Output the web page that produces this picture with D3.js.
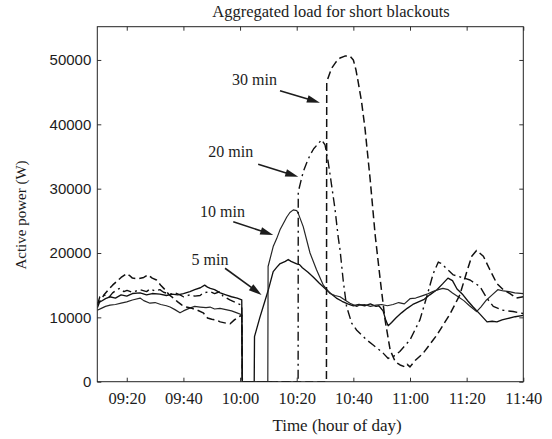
<!DOCTYPE html>
<html><head><meta charset="utf-8">
<script src="https://cdn.jsdelivr.net/npm/d3@7"></script>
<style>body{margin:0;background:#fff}</style>
</head><body><svg id="c" width="552" height="439"></svg>
<script>
// ---- data (time in minutes after 09:00, load in W) ----
const xTickMinutes = [20,40,60,80,100,120,140,160];
const xTickLabels = ["09:20","09:40","10:00","10:20","10:40","11:00","11:20","11:40"];
const yTicks = [0,10000,20000,30000,40000,50000];
const seriesNames = ["5 min","10 min","20 min","30 min"];

const time5 = [9.6,11,12.5,14,16,18,20,22,24.7,27,29,31.7,34,36,38,40,42.3,44,46,47.5,48.5,49.5,51,53,55,57,59,60.6,60.8,65,65.1,67,70,71.7,73,74,75,76,77,78,79,80,81,82,84,86,88,90,92,94,96,98,100,102,104,106,108,109,110.5,111.5,112.3,113.5,115,117,119,121,123,125,127,129.5,131.5,133.4,135,136.6,138.7,140.5,142.3,144.7,147.2,149,150.7,152.5,154.3,157.1,160];
const load5 = [12200,12500,12900,13200,13000,13500,13300,13700,13800,13500,13700,13600,13400,13600,13500,13700,14000,14300,14600,15000,14700,14500,14300,13800,13500,13200,13000,12700,0,0,7000,10000,14300,17100,17800,18300,18500,18700,19000,18700,18500,18300,18200,17700,17000,16200,15300,14500,13700,13000,12500,12100,11800,12000,11800,12100,11700,11800,11000,9500,8700,9200,9900,10700,11400,12000,12400,12800,13500,14300,15200,16100,15700,14400,13500,12500,11600,10500,9300,9400,9300,9600,9800,10100,10300];

const time10 = [9.6,11,12.5,14.1,16,18,20,22,24.7,26,28.2,30,32,34,35.3,37,38.8,40,42,44,45.9,48,49.4,51,52.9,55,57,58.9,60.6,60.8,69.8,69.9,71.7,72.9,74.1,75.9,76.5,77.6,78.8,80,80.5,82.3,84.7,87,89.4,91.8,93.5,95.3,97,98.8,101.2,102,104,106,108,110,112,114,116,118,120,122,124,126,128,130,131.6,133.5,135,137,139,141,143.5,145,147,149,151,153,155,157,160];
const load10 = [11100,11400,11700,11900,12000,12200,12400,12700,13000,12600,12200,12300,12000,11800,11600,11200,10700,11000,11400,11700,11600,11500,11600,11300,11400,11200,11000,10700,10400,0,0,17900,21000,22200,23600,25100,25600,26300,26700,26600,26200,24100,20000,17400,15000,13700,13400,13200,12700,12200,11700,11900,12000,11700,11900,12000,11800,12000,12300,12100,12900,13000,13300,13600,14000,14300,14500,14300,13800,13200,12600,11800,10900,11600,12700,13500,14300,14100,14000,13800,13700];

const time20 = [9.6,10.5,12,13.5,15,16.5,17.6,19,20.1,22,24.7,27,28.2,30,31.7,33,35.3,37,38.8,40,42.3,44,45.9,47,49.4,51,52.9,54,56.4,58.9,60.6,60.8,80.5,80.55,81.5,82.3,83.5,84.7,86,87.6,88.8,90,91.1,92.3,93.5,94.7,95.3,96.4,97.6,99.4,101.2,103.5,105,107,109,110.6,112.3,113,114.1,116.4,118,120,123.5,125.9,128.2,130,130.9,132.9,135.3,137.6,141.2,144.7,147.1,149.4,152.9,156.4,160];
const load20 = [11900,13200,13500,13000,13800,14300,14500,14000,14200,13900,14300,14000,14400,14100,14300,13900,13600,13800,13500,13200,13500,13300,13400,13800,14000,13700,14000,13300,12700,12200,11900,0,0,29500,31200,32600,34000,35200,36200,37000,37600,36800,34200,30600,26900,22300,20500,15800,11700,9100,8000,7000,6400,5700,5000,4400,3600,3800,3900,4700,5500,6500,9600,13200,16800,18600,18400,17600,16600,16300,15800,14800,13000,11700,11100,10900,10600];

const time30 = [9.6,10.5,12,13.5,15,16.5,18,20,21,22,24,26,27.5,29,30.5,32,33.5,35,36.5,38,39.5,41,43,45,47,48.5,50,51.5,53,55,56.5,58,59.5,60.6,60.8,90.5,90.6,92.3,93.9,95.3,97,98.8,100,100.9,101.7,102.9,104.1,105,105.9,107.7,109.5,111.2,113,114.8,116.5,118.2,119,120,121.8,124.6,129.4,134.1,137.6,140,141.8,143.5,145.9,148.2,150.6,152.9,155.3,157.6,160];
const load30 = [11500,12500,13500,14300,15000,15600,16200,16800,16500,16100,16000,16200,16600,16100,15800,15000,14300,13500,13000,12400,11900,11600,11400,11100,10700,9900,9700,9600,9300,9100,9000,9600,10100,10300,0,0,46600,48700,49700,50300,50600,50600,50000,48500,46600,43500,39400,35500,31600,22800,15800,9600,4900,3100,2600,2300,2700,2300,3300,4400,7200,10500,13500,17000,19500,20400,19500,17400,15300,14300,13700,13000,13200];

// ---- drawing ----
const svg = d3.select("#c");
const L = 97.3, R = 523.3, T = 26.7, B = 381.7;
const x = d3.scaleLinear().domain([9.6,160]).range([L,R]);
const y = d3.scaleLinear().domain([0,55170]).range([B,T]);
const ink = "#1c1c1c";
const serif = "'Liberation Serif','Times New Roman',serif";
const sans = "'Liberation Sans',Arial,sans-serif";

svg.append("defs").append("clipPath").attr("id","clip")
  .append("rect").attr("x",L).attr("y",T).attr("width",R-L).attr("height",B-T);

const series = [
  {t:time5,  v:load5,  w:1.35, dash:null,      col:"#111"},
  {t:time10, v:load10, w:1.2,  dash:null,      col:"#262626"},
  {t:time20, v:load20, w:1.4,  dash:"9,4,2,4", col:"#111"},
  {t:time30, v:load30, w:1.5,  dash:"8,4",     col:"#111"}
];
const line = d3.line().x(d=>x(d[0])).y(d=>y(d[1]));
const g = svg.append("g").attr("clip-path","url(#clip)");
series.forEach(s=>{
  const pts = s.t.map((t,i)=>[t,s.v[i]]);
  g.append("path").datum(pts).attr("d",line)
    .attr("fill","none").attr("stroke",s.col).attr("stroke-width",s.w)
    .attr("stroke-linejoin","round")
    .attr("stroke-dasharray",s.dash);
});

// axes
const xb = svg.append("g").attr("transform",`translate(0,${B})`)
  .call(d3.axisBottom(x).tickValues(xTickMinutes).tickFormat((d,i)=>xTickLabels[i])
        .tickSizeInner(-4).tickSizeOuter(0).tickPadding(11));
const xt = svg.append("g").attr("transform",`translate(0,${T})`)
  .call(d3.axisTop(x).tickValues(xTickMinutes).tickFormat("").tickSizeInner(-4).tickSizeOuter(0));
const yl = svg.append("g").attr("transform",`translate(${L},0)`)
  .call(d3.axisLeft(y).tickValues(yTicks).tickFormat(d3.format("d"))
        .tickSizeInner(-4).tickSizeOuter(0).tickPadding(6));
const yr = svg.append("g").attr("transform",`translate(${R},0)`)
  .call(d3.axisRight(y).tickValues(yTicks).tickFormat("").tickSizeInner(-4).tickSizeOuter(0));
[xb,xt,yl,yr].forEach(a=>{
  a.select(".domain").remove();
  a.selectAll(".tick line").attr("stroke","#333");
});
xb.selectAll("text").attr("font-family",serif).attr("font-size",16.5).attr("fill",ink);
yl.selectAll("text").attr("font-family",sans).attr("font-size",15).attr("fill",ink);

svg.append("rect").attr("x",L).attr("y",T).attr("width",R-L).attr("height",B-T)
  .attr("fill","none").attr("stroke","#222").attr("stroke-width",1);

// titles
svg.append("text").attr("x",331).attr("y",17).attr("text-anchor","middle")
  .attr("font-family",serif).attr("font-size",16.5).attr("fill",ink)
  .text("Aggregated load for short blackouts");
svg.append("text").attr("x",337).attr("y",431).attr("text-anchor","middle")
  .attr("font-family",serif).attr("font-size",17).attr("fill",ink)
  .text("Time (hour of day)");
svg.append("text").attr("transform","translate(25.6,215) rotate(-90)").attr("text-anchor","middle")
  .attr("font-family",serif).attr("font-size",15).attr("fill",ink)
  .text("Active power (W)");

// annotations (in data units)
const annotations = [
  {label:seriesNames[3], text:[57.2,46110], tail:[74.1,45230], tip:[88.2,43360]},
  {label:seriesNames[2], text:[48.8,34880], tail:[66.4,33790], tip:[80.55,31860]},
  {label:seriesNames[1], text:[45.9,25600], tail:[57.6,24870], tip:[71.7,22800]},
  {label:seriesNames[0], text:[42.9,18140], tail:[54.7,17630], tip:[67.6,13480]}
];
annotations.forEach(a=>{
  svg.append("text").attr("x",x(a.text[0])).attr("y",y(a.text[1]))
    .attr("font-family",serif).attr("font-size",16).attr("fill",ink).text(a.label);
  const x0=x(a.tail[0]), y0=y(a.tail[1]), x1=x(a.tip[0]), y1=y(a.tip[1]);
  const ang = Math.atan2(y1-y0,x1-x0), hl=13, hw=3.8;
  const bx = x1-hl*Math.cos(ang), by = y1-hl*Math.sin(ang);
  svg.append("line").attr("x1",x0).attr("y1",y0).attr("x2",bx+2*Math.cos(ang)).attr("y2",by+2*Math.sin(ang))
    .attr("stroke",ink).attr("stroke-width",1.6);
  const px = -Math.sin(ang), py = Math.cos(ang);
  svg.append("polygon")
    .attr("points",[[x1,y1],[bx+hw*px,by+hw*py],[bx-hw*px,by-hw*py]].map(p=>p.join(",")).join(" "))
    .attr("fill",ink);
});
</script></body></html>
